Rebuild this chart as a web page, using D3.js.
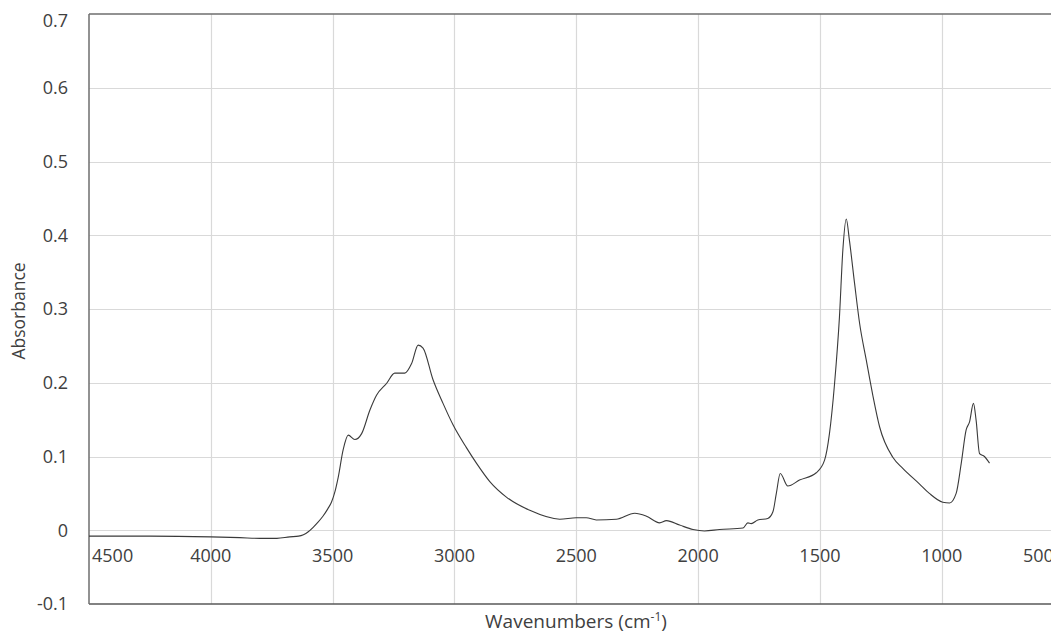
<!DOCTYPE html>
<html>
<head>
<meta charset="utf-8">
<script src="https://cdn.jsdelivr.net/npm/d3@7"></script>
<style>
  body { margin: 0; background: #fff; }
  svg { display: block; overflow: hidden; }
  text { font-family: "Open Sans", sans-serif; fill: #404040; }
</style>
</head>
<body>
<div id="chart"></div>
<script>
// spectrum: wavenumber (cm-1) and absorbance
const wavenumbers = [4500, 4250, 4000, 3881, 3799, 3729, 3676, 3640, 3620, 3600, 3580, 3560, 3540, 3520, 3505, 3490, 3477, 3457, 3436,
  3409, 3381, 3347, 3320, 3279, 3245, 3204, 3176, 3149, 3129, 3088, 3047, 3006, 2951, 2910, 2855, 2787,
  2691, 2568, 2500, 2459, 2418, 2336, 2260, 2212, 2158, 2130, 2076, 2021, 1974, 1912, 1816, 1796, 1782,
  1755, 1714, 1693, 1679, 1663, 1632, 1584, 1515, 1481, 1461, 1440, 1420, 1406, 1392, 1379, 1358, 1337,
  1310, 1283, 1255, 1201, 1160, 1092, 1051, 996, 968, 941, 920, 900, 886, 870, 859, 845, 825, 804];
const absorbance = [-0.008, -0.008, -0.009, -0.010, -0.011, -0.011, -0.009, -0.008, -0.006, -0.002, 0.004, 0.011, 0.019, 0.029, 0.038, 0.053, 0.072, 0.109, 0.129,
  0.123, 0.131, 0.163, 0.183, 0.199, 0.213, 0.213, 0.226, 0.251, 0.247, 0.204, 0.172, 0.143, 0.112, 0.091, 0.066, 0.045,
  0.027, 0.015, 0.017, 0.017, 0.014, 0.015, 0.023, 0.019, 0.010, 0.013, 0.007, 0.001, -0.001, 0.001, 0.003, 0.010, 0.009,
  0.014, 0.016, 0.025, 0.050, 0.077, 0.060, 0.068, 0.078, 0.095, 0.131, 0.199, 0.289, 0.380, 0.422, 0.393, 0.335, 0.280,
  0.231, 0.183, 0.140, 0.099, 0.084, 0.063, 0.050, 0.038, 0.037, 0.050, 0.091, 0.136, 0.147, 0.172, 0.149, 0.104, 0.100, 0.091];

const xTicks = [4500, 4000, 3500, 3000, 2500, 2000, 1500, 1000, 500];
const yTicks = [-0.1, 0, 0.1, 0.2, 0.3, 0.4, 0.5, 0.6, 0.7];

const width = 1051, height = 635;
const plotLeft = 89, plotTop = 14, plotBottom = 604;
const plotRight = 1063.6; // plot runs past the picture's right edge

const data = wavenumbers.map((w, i) => ({ w: w, a: absorbance[i] }));

const svg = d3.select("#chart").append("svg")
  .attr("width", width)
  .attr("height", height);

const x = d3.scaleLinear().domain([4500, 500]).range([plotLeft, plotRight]);
const y = d3.scaleLinear().domain([-0.1, 0.7]).range([plotBottom, plotTop]);

// gridlines
svg.append("g")
  .selectAll("line")
  .data(yTicks.filter(t => t > -0.1 && t < 0.7))
  .enter().append("line")
  .attr("x1", plotLeft).attr("x2", width)
  .attr("y1", d => Math.round(y(d)) + 0.5).attr("y2", d => Math.round(y(d)) + 0.5)
  .attr("stroke", "#d9d9d9").attr("stroke-width", 1.2);

svg.append("g")
  .selectAll("line")
  .data(xTicks.filter(t => t < 4500))
  .enter().append("line")
  .attr("x1", d => Math.round(x(d)) + 0.5).attr("x2", d => Math.round(x(d)) + 0.5)
  .attr("y1", plotTop).attr("y2", plotBottom)
  .attr("stroke", "#d9d9d9").attr("stroke-width", 1.2);

// frame
svg.append("line").attr("x1", plotLeft).attr("x2", width).attr("y1", plotTop).attr("y2", plotTop)
  .attr("stroke", "#6e6e6e").attr("stroke-width", 1.5);
svg.append("line").attr("x1", plotLeft).attr("x2", width).attr("y1", plotBottom).attr("y2", plotBottom)
  .attr("stroke", "#595959").attr("stroke-width", 1.3);
svg.append("line").attr("x1", plotLeft).attr("x2", plotLeft).attr("y1", plotTop).attr("y2", plotBottom)
  .attr("stroke", "#6e6e6e").attr("stroke-width", 1.5);

// tick labels (plain hyphen for the negative value, as in the original)
svg.append("g")
  .selectAll("text")
  .data(yTicks)
  .enter().append("text")
  .attr("x", 68)
  .attr("y", d => Math.max(y(d), 21))
  .attr("dy", "0.35em")
  .attr("text-anchor", "end")
  .style("font-size", "18px")
  .text(d => d3.format(".1~f")(d).replace("\u2212", "-"));

svg.append("g")
  .selectAll("text")
  .data(xTicks)
  .enter().append("text")
  .attr("x", d => d === 4500 ? 92 : (d === 500 ? 1023 : x(d)))
  .attr("y", 562)
  .attr("text-anchor", d => (d === 4500 || d === 500) ? "start" : "middle")
  .style("font-size", "18px")
  .text(d => d);

// axis titles
svg.append("text")
  .attr("transform", "translate(25,311) rotate(-90)")
  .attr("text-anchor", "middle")
  .style("font-size", "17.5px")
  .text("Absorbance");

const xt = svg.append("text")
  .attr("x", 576)
  .attr("y", 628)
  .attr("text-anchor", "middle")
  .style("font-size", "19px");
xt.append("tspan").text("Wavenumbers (cm");
xt.append("tspan").attr("dy", -7).style("font-size", "12px").text("-1");
xt.append("tspan").attr("dy", 7).text(")");

// spectrum
const line = d3.line()
  .x(d => x(d.w))
  .y(d => y(d.a))
  .curve(d3.curveMonotoneX);

svg.append("path")
  .datum(data)
  .attr("d", line)
  .attr("fill", "none")
  .attr("stroke", "#3a3a3a")
  .attr("stroke-width", 1.1);
</script>
</body>
</html>
